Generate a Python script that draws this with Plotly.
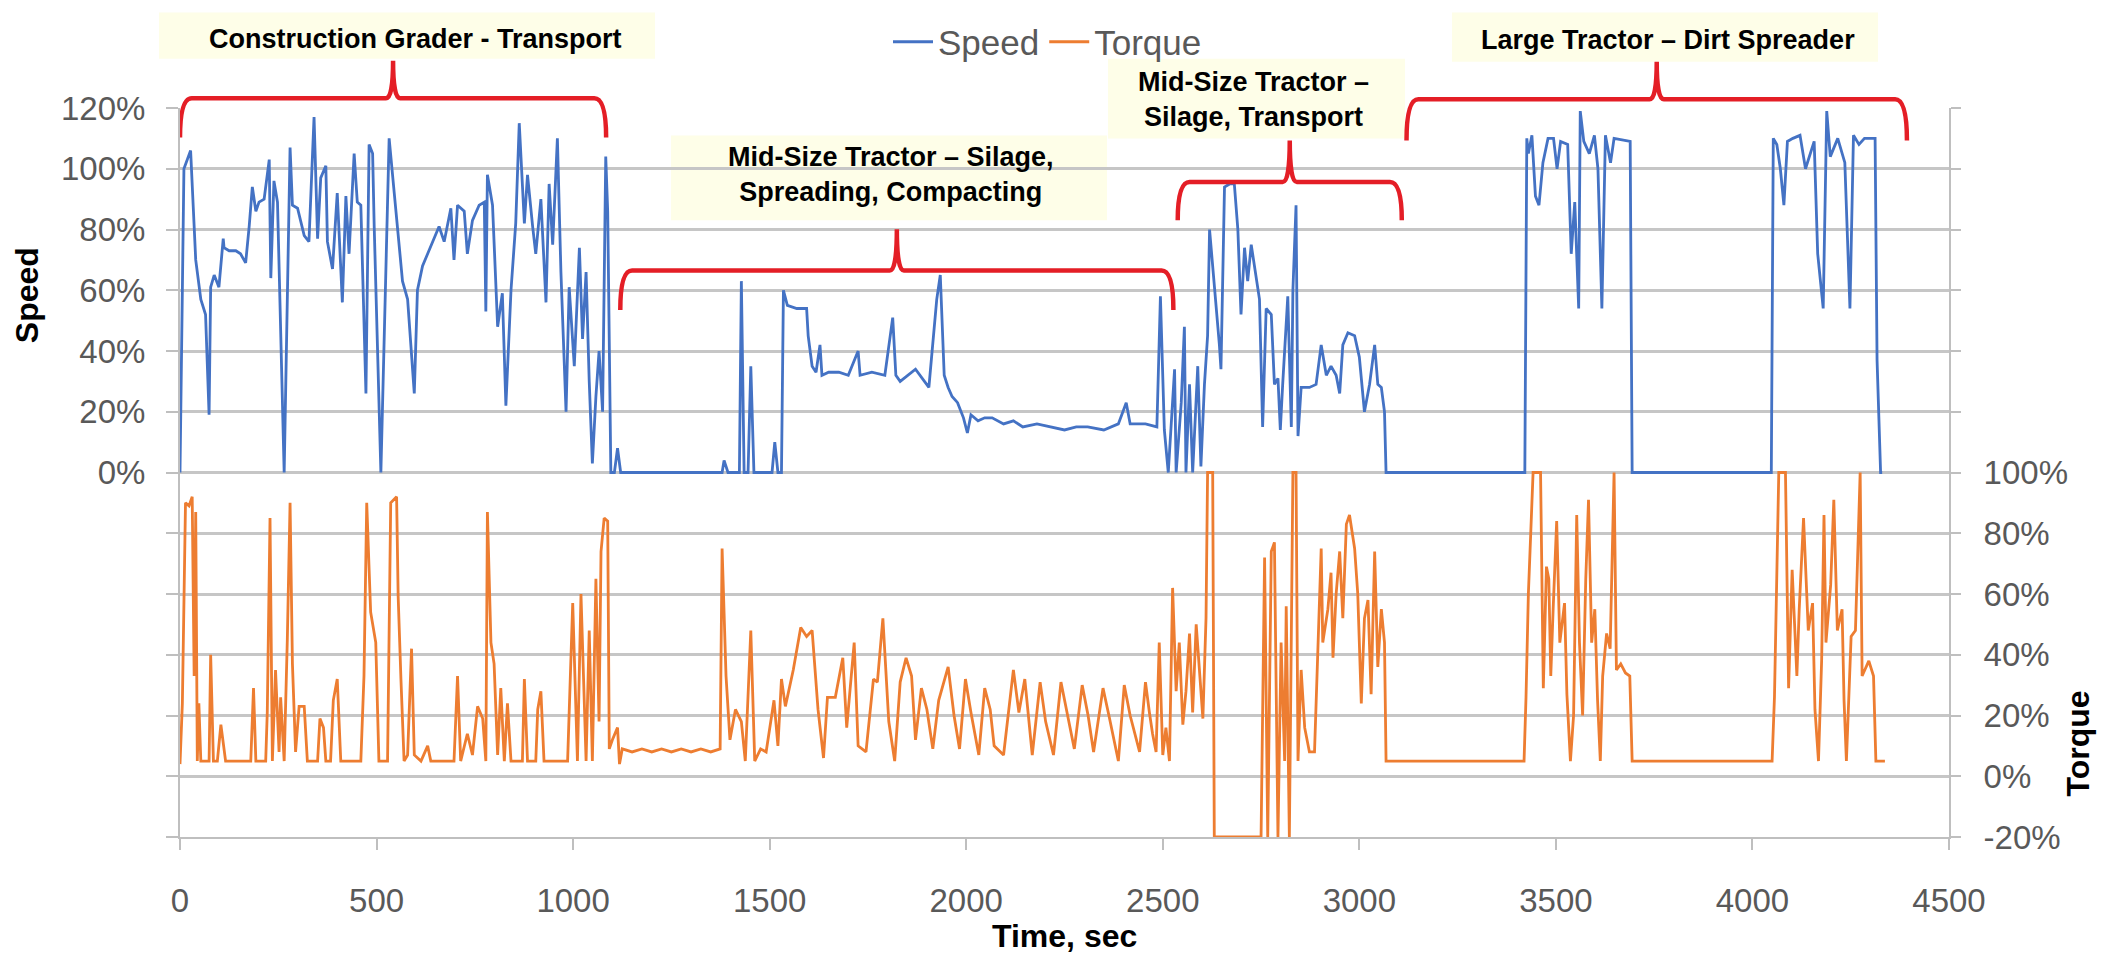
import plotly.graph_objects as go

# ---------------- data (time in s, value in %) ----------------
speed_grader = [(0,0),(10,100),(27,106),(40,70),(53,57),(65,52),(74,19),(78,61),(87,65),(99,61),(110,77),(112,74),
    (125,73),(142,73),(154,72),(167,69),(176,81),(184,94),(193,86),(201,89),(214,90),(227,103),(231,64),(239,96),
    (248,89),(265,0),(280,107),(286,88),(299,87),(316,78),(328,76),(341,117),(350,77),(358,97),(371,101),(375,76),
    (388,67),(400,92),(413,56),(422,91),(430,72),(443,105),(451,89),(460,88),(473,26),(481,108),(490,105),(494,81),
    (511,0),(519,41),(532,110),(545,92),(553,81),(566,63),(579,57),(596,26),(604,60),(617,68),(630,72),(642,76),
    (659,81),(672,76),(689,87),(697,70),(706,88),(723,86),(731,72),(744,83),(761,88),(774,89),(778,53),(782,98),
    (795,88),(808,48),(820,59),(829,22),(842,60),(854,82),(863,115),(876,82),(884,98),(897,81),(905,72),(918,90),
    (931,56),(939,95),(948,75),(960,110),(969,66),(982,20),(990,61),(1003,35),(1016,74),(1024,44),(1033,66),
    (1041,30),(1049,3),(1058,25),(1066,40),(1075,20),(1083,104),(1088,86),(1096,0),(1105,0),(1113,8)]
speed_midsize_a = [(1121,0),(1379,0),(1384,4),(1394,0),(1423,0),(1428,63),(1435,0),(1445,0),(1452,35),(1460,0),
    (1506,0),(1513,10),(1521,0),(1530,0),(1535,60),(1545,55),(1569,54),(1594,54),(1598,45),(1608,35),(1618,33),
    (1628,42),(1633,32),(1650,33),(1676,33),(1700,32),(1725,40),(1730,32),(1760,33),(1793,32),(1813,51),(1821,32),
    (1832,30),(1871,34),(1905,28),(1925,57),(1934,65),(1944,32),(1954,28),(1964,25),(1978,23),(1993,18),(2003,13),
    (2012,19),(2030,17),(2047,18),(2066,18),(2095,16),(2120,17),(2144,15),(2180,16),(2212,15),(2250,14),(2280,15),
    (2309,15),(2350,14),(2387,16),(2407,23),(2417,16),(2456,16),(2485,15),(2494,58),(2504,14),(2514,0)]
speed_midsize_b = [(2530,34),(2534,0),(2547,23),(2555,48),(2559,0),(2568,29),(2576,0),(2589,35),(2597,2),(2606,29),
    (2614,45),(2619,80),(2631,63),(2644,42),(2648,34),(2657,94),(2670,95),(2682,95),(2691,80),(2699,52),(2708,74),
    (2716,63),(2725,75),(2737,65),(2746,57),(2754,15),(2763,54),(2776,52),(2784,29),(2793,31),(2799,14),(2805,29),
    (2818,58),(2827,15),(2831,60),(2839,88),(2844,12),(2852,28),(2873,28),(2890,29),(2903,42),(2916,32),(2928,35),
    (2941,32),(2950,26),(2958,42),(2971,46),(2988,45),(3000,38),(3013,20),(3026,29),(3039,42),(3047,29),(3056,28),
    (3064,20),(3068,0)]
speed_large = [(3421,0),(3426,110),(3430,105),(3439,111),(3448,91),(3457,88),(3467,102),(3480,110),(3494,110),
    (3503,100),(3512,109),(3530,108),(3539,72),(3548,89),(3558,54),(3562,119),(3571,109),(3585,105),(3598,111),
    (3607,100),(3617,54),(3626,111),(3639,102),(3648,110),(3689,109),(3694,0),(4048,0),(4053,110),(4062,108),
    (4071,100),(4080,88),(4089,109),(4103,110),(4121,111),(4135,100),(4157,109),(4166,72),(4180,54),(4189,119),
    (4198,104),(4217,110),(4235,102),(4248,54),(4257,111),(4271,108),(4285,110),(4312,110),(4317,37),(4326,0),(4330,0)]

torque_grader = [(0,4),(6,24),(14,90),(23,89),(31,92),(36,33),(40,87),(44,5),(48,24),(53,5),(74,5),(78,40),(85,5),
    (95,5),(104,17),(116,5),(180,5),(187,29),(193,5),(218,5),(222,21),(229,85),(235,5),(243,35),(252,8),(256,26),
    (265,5),(273,45),(280,90),(286,37),(294,8),(303,23),(316,23),(324,5),(350,5),(356,19),(365,16),(371,5),(383,5),
    (390,25),(400,32),(409,5),(460,5),(468,33),(475,90),(485,54),(498,44),(506,5),(528,5),(536,90),(551,92),(555,59),
    (562,32),(570,5),(579,7),(589,42),(596,7),(613,5),(630,10),(638,5),(697,5),(706,33),(714,5),(731,14),(744,7),
    (757,23),(770,19),(778,5),(782,87),(791,44),(799,37),(808,7),(816,29),(825,5),(833,24),(842,5),(871,5),(876,32),
    (884,5),(905,5),(910,22),(918,28),(926,5),(986,5),(999,57),(1011,5),(1020,60),(1033,5),(1041,48),(1049,5),
    (1058,65),(1066,18),(1071,74),(1079,85),(1088,84),(1092,9),(1100,12),(1113,16),(1118,4)]
torque_midsize_a = [(1125,9),(1150,8),(1175,9),(1200,8),(1225,9),(1250,8),(1275,9),(1300,8),(1325,9),(1350,8),
    (1374,9),(1379,75),(1389,33),(1399,12),(1413,22),(1428,18),(1438,5),(1452,48),(1462,5),(1477,9),(1491,8),
    (1511,25),(1521,10),(1530,32),(1540,23),(1560,35),(1579,49),(1594,46),(1608,48),(1623,22),(1637,6),(1647,26),
    (1667,26),(1686,39),(1696,16),(1715,44),(1725,10),(1745,8),(1764,32),(1774,31),(1788,52),(1803,18),(1818,5),
    (1832,31),(1847,39),(1861,33),(1871,12),(1886,29),(1900,22),(1915,9),(1930,25),(1954,36),(1969,20),(1983,9),
    (1998,32),(2012,21),(2032,7),(2047,29),(2061,22),(2071,10),(2095,7),(2120,35),(2134,21),(2149,32),(2168,7),
    (2188,31),(2202,18),(2222,7),(2241,31),(2261,18),(2275,9),(2295,30),(2310,20),(2324,8),(2348,29),(2363,20),
    (2387,5),(2402,30),(2417,20),(2441,8),(2456,31)]
torque_midsize_b = [(2466,21),(2474,14),(2483,8),(2491,44),(2500,7),(2508,16),(2517,5),(2525,62),(2534,28),
    (2542,44),(2551,17),(2559,28),(2568,47),(2576,21),(2585,50),(2593,36),(2602,19),(2610,52),(2614,100),(2627,100),
    (2631,-20),(2750,-20),(2759,72),(2767,-20),(2776,74),(2784,77),(2793,-20),(2801,44),(2810,5),(2814,56),
    (2822,-20),(2831,100),(2839,100),(2844,5),(2852,35),(2861,16),(2873,8),(2886,8),(2894,42),(2903,75),(2907,44),
    (2920,55),(2928,67),(2933,39),(2941,60),(2950,74),(2958,52),(2967,83),(2975,86),(2988,75),(2996,60),(3005,24),
    (3013,52),(3022,58),(3030,27),(3039,74),(3047,36),(3056,55),(3064,44),(3068,5)]
torque_large = [(3419,5),(3424,26),(3430,60),(3442,100),(3453,100),(3461,100),(3468,29),(3476,69),(3482,65),
    (3487,33),(3493,55),(3502,84),(3510,44),(3522,57),(3528,27),(3537,5),(3545,20),(3553,86),(3560,44),(3568,20),
    (3576,65),(3583,91),(3591,44),(3599,55),(3606,25),(3613,5),(3619,33),(3629,47),(3638,42),(3648,100),(3654,35),
    (3665,37),(3677,34),(3688,33),(3694,5),(4050,5),(4056,26),(4061,60),(4067,100),(4084,100),(4092,29),(4101,68),
    (4113,33),(4119,55),(4130,85),(4142,48),(4153,57),(4159,22),(4168,5),(4176,38),(4182,86),(4187,44),(4199,63),
    (4207,91),(4216,48),(4228,55),(4233,25),(4239,5),(4251,46),(4262,48),(4274,100),(4279,33),(4296,38),(4308,33),
    (4314,5),(4337,5)]

segment_labels = ["Construction Grader - Transport",
                  "Mid-Size Tractor – Silage,<br>Spreading, Compacting",
                  "Mid-Size Tractor –<br>Silage, Transport",
                  "Large Tractor – Dirt Spreader"]
segment_start = [0, 1120, 2538, 3120]
segment_end = [1084, 2527, 3108, 4393]

x_ticks = list(range(0, 4501, 500))
speed_ticks = list(range(-120, 121, 20))
torque_ticks = list(range(-20, 221, 20))

# ---------------- layout geometry (pixels of the 2107x957 page) ----------------
W, H = 2107, 957
L, R, T, B = 180, 158, 97, 120
PW, PH = W - L - R, H - T - B


def px(xp):
    return (xp - L) / PW


def py(yp):
    return (H - B - yp) / PH


speed = speed_grader + speed_midsize_a + speed_midsize_b + speed_large
torque = torque_grader + torque_midsize_a + torque_midsize_b + torque_large

FONT = "Liberation Sans"
GRID = "#C6C6C6"
AX = "#BFBFBF"

fig = go.Figure()
fig.add_trace(go.Scatter(x=[p[0] for p in speed], y=[p[1] for p in speed], name="Speed", mode="lines",
                         line=dict(color="#4472C4", width=2.8), yaxis="y"))
fig.add_trace(go.Scatter(x=[p[0] for p in torque], y=[p[1] for p in torque], name="Torque", mode="lines",
                         line=dict(color="#ED7D31", width=2.8), yaxis="y2"))

tickfont = dict(family=FONT, size=33, color="#595959")
fig.update_layout(
    width=W, height=H, margin=dict(l=L, r=R, t=T, b=B),
    paper_bgcolor="white", plot_bgcolor="white",
    showlegend=True,
    legend=dict(orientation="h", x=px(888), y=py(30), xanchor="left", yanchor="middle",
                font=dict(family=FONT, size=35, color="#595959"), bgcolor="rgba(0,0,0,0)", itemwidth=40),
    xaxis=dict(range=[0, 4500], tickvals=x_ticks, ticktext=[str(v) for v in x_ticks], showgrid=False,
               zeroline=False, showline=True, linecolor=AX, linewidth=2, ticks="outside", ticklen=11,
               tickcolor=AX, tickwidth=2, tickfont=tickfont, ticklabelstandoff=22),
    yaxis=dict(range=[-120, 120], tickvals=speed_ticks,
               ticktext=[f"{v}%" if v >= 0 else "" for v in speed_ticks],
               showgrid=True, gridcolor=GRID, gridwidth=2.5, zeroline=False, showline=True, linecolor=AX,
               linewidth=2, ticks="outside", ticklen=12, tickcolor=AX, tickwidth=2, tickfont=tickfont,
               ticklabelstandoff=14),
    yaxis2=dict(range=[-20, 220], tickvals=torque_ticks, overlaying="y", side="right",
                ticktext=[f"{v}%" if v <= 100 else "" for v in torque_ticks],
                showgrid=False, zeroline=False, showline=True, linecolor=AX, linewidth=2,
                ticks="outside", ticklen=10, tickcolor=AX, tickwidth=2, tickfont=tickfont,
                ticklabelstandoff=16),
)

title_font = dict(family=FONT, size=32, color="#000000")
fig.add_annotation(text="<b>Speed</b>", x=px(27), y=py(287), xref="paper", yref="paper", textangle=-90,
                   showarrow=False, font=title_font, xanchor="center", yanchor="middle")
fig.add_annotation(text="<b>Torque</b>", x=px(2078), y=py(742), xref="paper", yref="paper", textangle=-90,
                   showarrow=False, font=title_font, xanchor="center", yanchor="middle")
fig.add_annotation(text="<b>Time, sec</b>", x=px(1064), y=py(937), xref="paper", yref="paper",
                   showarrow=False, font=title_font, xanchor="center", yanchor="middle")

# label boxes (pixel rects) and label positions
boxes = [(159, 0, 655, 47), (671, 125, 1107, 211), (1108, 47, 1405, 128), (1452, 0, 1878, 50)]
label_pos = [(415, 27), (891, 165), (1253, 88), (1668, 28)]
# bracket levels: (horizontal, end tips, centre tip) in pixels
bracket_levels = [(87, 127, 49), (262, 302, 220), (172, 211, 130), (88, 130, 50)]

label_font = dict(family=FONT, size=27, color="#000000")
for i, lab in enumerate(segment_labels):
    x0, y0, x1, y1 = boxes[i]
    fig.add_shape(type="rect", xref="paper", yref="paper", x0=px(x0), x1=px(x1), y0=py(y1), y1=py(y0),
                  fillcolor="#FEFEE8", line=dict(width=0), layer="below")
    lx, ly = label_pos[i]
    fig.add_annotation(text=f"<b>{lab}</b>", x=px(lx), y=py(ly), xref="paper", yref="paper",
                       showarrow=False, font=label_font, xanchor="center", yanchor="middle", align="center")
    s, e = segment_start[i], segment_end[i]
    c = (s + e) / 2
    yh, ye, yt = (py(v) for v in bracket_levels[i])
    r = 30
    r2 = 18
    path = (f"M {s},{ye} Q {s},{yh} {s + r},{yh} L {c - r2},{yh} Q {c},{yh} {c},{yt} "
            f"Q {c},{yh} {c + r2},{yh} L {e - r},{yh} Q {e},{yh} {e},{ye}")
    fig.add_shape(type="path", path=path, xref="x", yref="paper", line=dict(color="#E41E26", width=4.5))

fig.write_html("out.html", config={"displayModeBar": False},
               post_script="document.body.style.margin='0';document.body.style.overflow='hidden';")
